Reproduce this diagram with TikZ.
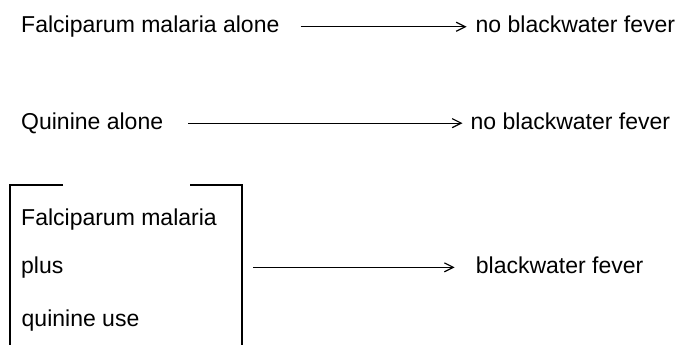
\documentclass[tikz,border=0pt]{standalone}
\usepackage{fontspec}
\setmainfont{Liberation Sans}
\usetikzlibrary{arrows.meta}

\begin{document}
\begin{tikzpicture}[x=1pt,y=-1pt,
  txt/.style={anchor=base west,inner sep=0pt,font=\fontsize{23}{27}\selectfont},
  arr/.style={line width=1.2pt,-{Straight Barb[length=9pt,width=9pt,line width=1.2pt]}},
  bracket/.style={line width=1.4pt}]
\useasboundingbox (0,0) rectangle (682,345);
\node [txt] (fm) at (21,32.7) {Falciparum malaria alone};
\node [txt] (nb1) at (475.5,33) {no blackwater fever};
\node [txt] (qa) at (21,129.3) {Quinine alone};
\node [txt] (nb2) at (470.5,129.3) {no blackwater fever};
\node [txt] (fmm) at (21,225) {Falciparum malaria};
\node [txt] (plus) at (21,273.3) {plus};
\node [txt] (qu) at (21.5,326) {quinine use};
\node [txt] (bw) at (475.7,273.3) {blackwater fever};
\coordinate (tl) at (10,185);
\coordinate (tr) at (242,185);
\draw [bracket] (63,185) -- (tl) -- (10,345);
\draw [bracket] (190,185) -- (tr) -- (242,345);
\draw [arr,shorten <=21pt,shorten >=9pt] (fm.east) -- (fm.east -| nb1.west);
\draw [arr,shorten <=25pt,shorten >=8pt] (qa.east) -- (qa.east -| nb2.west);
\draw [arr,shorten <=11pt,shorten >=21pt] (plus.center -| tr) -- (plus.center -| bw.west);
\end{tikzpicture}
\end{document}
